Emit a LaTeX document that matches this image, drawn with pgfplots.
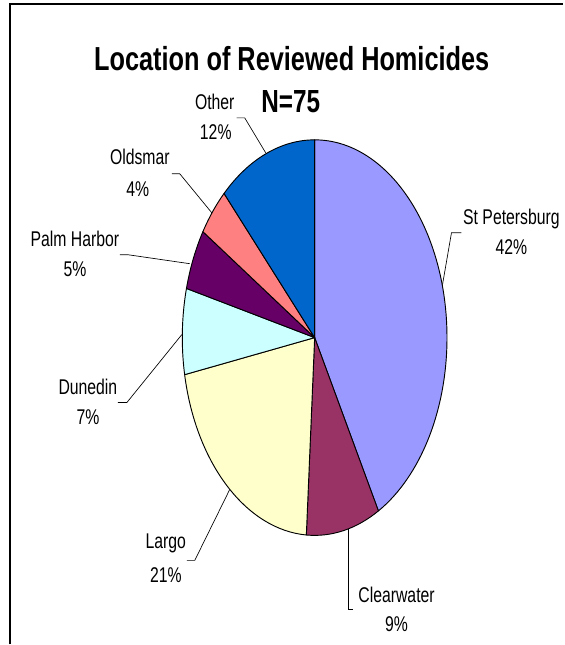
\documentclass[border=0pt]{standalone}
\usepackage{pgfplots}
\pgfplotsset{compat=1.18}
\usepackage{pgfplotstable}
\usepackage{fontspec}
\setmainfont{Liberation Sans}
\usetikzlibrary{calc}

\definecolor{stpete}{HTML}{9999FF}
\definecolor{clearw}{HTML}{993366}
\definecolor{largo}{HTML}{FFFFCC}
\definecolor{dunedin}{HTML}{CCFFFF}
\definecolor{palmh}{HTML}{660066}
\definecolor{oldsmar}{HTML}{FF8080}
\definecolor{other}{HTML}{0066CC}

% share of reviewed homicides, clockwise from 12 o'clock
\pgfplotstableread{
name          pct col
StPetersburg  42  stpete
Clearwater    9   clearw
Largo         21  largo
Dunedin       7   dunedin
PalmHarbor    5   palmh
Oldsmar       4   oldsmar
Other         12  other
}\piedata

% pie radii (pixels of the reference * 0.75pt)
\def\rx{99.375pt}
\def\ry{148.5pt}

\newcommand{\lab}[4][16]{\node[anchor=base, inner sep=0pt] at (axis cs:#2,#3)
  {\scalebox{0.74}[1]{\fontsize{#1}{#1}\selectfont #4}};}

\begin{document}
\begin{tikzpicture}
\begin{axis}[
  width=423pt, height=483.75pt, scale only axis,
  xmin=0, xmax=564, ymin=0, ymax=645, y dir=reverse,
  hide axis, clip=false,
]
\path (axis cs:0,0) (axis cs:564,645);

% wedges
\def\cum{0}
\pgfplotsforeachungrouped \i in {0,...,6}{%
  \pgfplotstablegetelem{\i}{pct}\of\piedata \let\p=\pgfplotsretval
  \pgfplotstablegetelem{\i}{col}\of\piedata \let\wcol=\pgfplotsretval
  \pgfmathsetmacro\a{90-3.6*\cum}%
  \pgfmathsetmacro\d{3.6*\p}%
  \edef\next{\noexpand\filldraw[fill=\wcol, draw=black, line width=0.7pt, line join=round]
    (axis cs:315,338) -- ++(\a:\rx\space and \ry)
    arc[start angle=\a, delta angle=-\d, x radius=\rx, y radius=\ry] -- cycle;}%
  \next
  \pgfmathsetmacro\cum{\cum+\p}%
}

% frame
\draw[line width=1.1pt] (axis cs:10,645) -- (axis cs:10,4) -- (axis cs:564,4);

% titles
\node[anchor=base, inner sep=0pt] at (axis cs:292,71)
  {\scalebox{0.76}[1]{\fontsize{25}{25}\selectfont\bfseries Location of Reviewed Homicides}};
\node[anchor=base, inner sep=0pt] at (axis cs:291,113)
  {\scalebox{0.76}[1]{\fontsize{24}{24}\selectfont\bfseries N=75}};

% leader lines
\begin{scope}[line width=0.5pt]
\draw (axis cs:462,233) -- (axis cs:452,233) -- (axis cs:443,285);
\draw (axis cs:353,610) -- (axis cs:349,610) -- (axis cs:349,530);
\draw (axis cs:187,561) -- (axis cs:195,561) -- (axis cs:230,490);
\draw (axis cs:118,403) -- (axis cs:127,403) -- (axis cs:182,335);
\draw (axis cs:120,255) -- (axis cs:128,255) -- (axis cs:190,264);
\draw (axis cs:172,174) -- (axis cs:180,174) -- (axis cs:212,213);
\draw (axis cs:237,118) -- (axis cs:245,118) -- (axis cs:266,153);
\end{scope}

% data labels
\lab{512}{225}{St Petersburg}
\lab{512}{255}{42\%}
\lab{397}{603}{Clearwater}
\lab{397}{632}{9\%}
\lab{166}{549}{Largo}
\lab{166}{583}{21\%}
\lab{88}{395}{Dunedin}
\lab{88}{425}{7\%}
\lab{75}{247}{Palm Harbor}
\lab{75}{277}{5\%}
\lab{140}{165}{Oldsmar}
\lab{138}{197}{4\%}
\lab{215}{110}{Other}
\lab{216}{140}{12\%}
\end{axis}
\end{tikzpicture}
\end{document}
